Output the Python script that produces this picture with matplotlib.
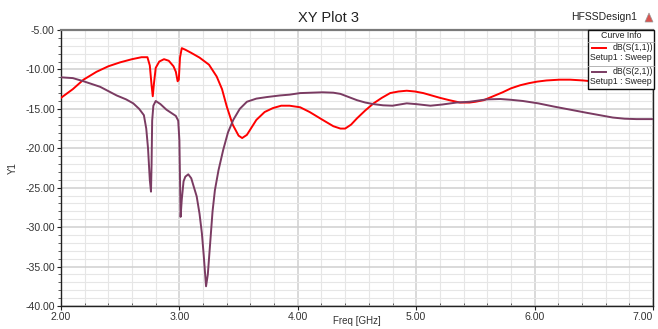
import matplotlib
matplotlib.use("Agg")
import matplotlib.pyplot as plt
from matplotlib.patches import Rectangle, Polygon
from matplotlib.ticker import MultipleLocator, FormatStrFormatter

plt.rcParams["font.family"] = ["Liberation Sans", "DejaVu Sans"]

# ---- data (freq in GHz, dB) ----
freq_s11 = [2.00, 2.10, 2.19, 2.30, 2.40, 2.50, 2.60, 2.68, 2.73, 2.75, 2.765, 2.775,
            2.785, 2.80, 2.83, 2.87, 2.91, 2.95, 2.97, 2.985, 2.995, 3.005, 3.02, 3.05,
            3.10, 3.17, 3.25, 3.315, 3.36, 3.40, 3.45, 3.50, 3.53, 3.57, 3.65, 3.72,
            3.79, 3.86, 3.93, 4.02, 4.10, 4.21, 4.30, 4.36, 4.40, 4.45, 4.50, 4.57,
            4.64, 4.71, 4.78, 4.85, 4.92, 4.99, 5.06, 5.13, 5.20, 5.28, 5.37, 5.45,
            5.50, 5.57, 5.65, 5.73, 5.80, 5.88, 5.95, 6.02, 6.10, 6.21, 6.30, 6.41,
            6.55, 6.70, 6.85, 7.00]
s11_db = [-13.6, -12.5, -11.3, -10.3, -9.6, -9.1, -8.7, -8.45, -8.45, -9.5, -12.0, -13.4,
          -11.8, -9.8, -9.0, -8.7, -8.9, -9.6, -10.3, -11.5, -11.3, -8.5, -7.3, -7.5,
          -7.9, -8.5, -9.4, -10.9, -12.5, -14.7, -17.0, -18.4, -18.7, -18.3, -16.4, -15.4,
          -14.9, -14.6, -14.6, -14.8, -15.4, -16.4, -17.2, -17.5, -17.5, -17.0, -16.2, -15.2,
          -14.3, -13.6, -13.0, -12.8, -12.7, -12.8, -13.0, -13.3, -13.6, -13.9, -14.2, -14.2,
          -14.1, -13.9, -13.4, -12.9, -12.4, -12.0, -11.75, -11.55, -11.4, -11.3, -11.3, -11.4,
          -11.6, -11.9, -12.2, -12.4]

freq_s21 = [2.00, 2.10, 2.19, 2.33, 2.47, 2.55, 2.61, 2.66, 2.70, 2.72, 2.735, 2.75,
            2.76, 2.765, 2.77, 2.78, 2.80, 2.84, 2.89, 2.93, 2.97, 2.99, 3.00, 3.01,
            3.02, 3.035, 3.05, 3.075, 3.10, 3.146, 3.17, 3.19, 3.205, 3.225, 3.24, 3.26,
            3.28, 3.30, 3.33, 3.37, 3.41, 3.455, 3.51, 3.57, 3.65, 3.74, 3.85, 3.93,
            4.02, 4.21, 4.30, 4.36, 4.43, 4.50, 4.57, 4.64, 4.72, 4.80, 4.86, 4.92,
            5.00, 5.12, 5.22, 5.34, 5.45, 5.595, 5.71, 5.80, 5.90, 6.03, 6.16, 6.30,
            6.44, 6.55, 6.66, 6.76, 6.86, 7.00]
s21_db = [-11.0, -11.1, -11.5, -12.2, -13.3, -13.8, -14.3, -15.0, -15.8, -17.5, -20.0, -24.0,
          -25.5, -22.0, -16.5, -14.6, -14.0, -14.4, -15.1, -15.5, -15.9, -16.5, -19.0, -28.7,
          -26.5, -24.2, -23.6, -23.3, -23.8, -26.1, -28.3, -30.8, -33.5, -37.5, -36.0, -32.0,
          -28.0, -25.3, -22.8, -20.2, -18.0, -16.4, -15.0, -14.1, -13.7, -13.5, -13.3, -13.2,
          -13.0, -12.9, -12.95, -13.1, -13.5, -13.9, -14.2, -14.4, -14.55, -14.6, -14.45, -14.3,
          -14.4, -14.6, -14.45, -14.2, -14.1, -13.8, -13.75, -13.85, -14.0, -14.3, -14.7, -15.1,
          -15.5, -15.8, -16.1, -16.25, -16.3, -16.3]

x_ticks = [2.0, 3.0, 4.0, 5.0, 6.0, 7.0]
x_tick_labels = ["2.00", "3.00", "4.00", "5.00", "6.00", "7.00"]

RED = "#ff0000"
PURPLE = "#7a3b62"

fig = plt.figure(figsize=(6.58, 3.29), dpi=100)
fig.patch.set_facecolor("white")
ax = fig.add_axes([61 / 658, 1 - 306 / 329, 592 / 658, 276 / 329])

ax.plot(freq_s11, s11_db, color=RED, lw=1.4, zorder=3)
ax.plot(freq_s21, s21_db, color=PURPLE, lw=1.4, zorder=3)

ax.set_xlim(2.0, 7.0)
ax.set_ylim(-40.0, -5.0)
ax.set_xticks(x_ticks, labels=x_tick_labels)
ax.xaxis.set_minor_locator(MultipleLocator(0.2))
ax.yaxis.set_major_locator(MultipleLocator(5.0))
ax.yaxis.set_minor_locator(MultipleLocator(1.0))
ax.yaxis.set_major_formatter(FormatStrFormatter("%.2f"))

ax.grid(which="major", color="#cfcfcf", lw=1.1, zorder=0)
ax.grid(which="minor", color="#e6e6e6", lw=0.8, zorder=0)
ax.set_axisbelow(True)

ax.tick_params(which="major", direction="out", length=3, width=0.8, color="#222222",
               labelsize=7.6, labelcolor="#333333", pad=1.5)
ax.tick_params(which="minor", direction="out", length=2, width=0.6, color="#444444")
ax.tick_params(axis="x", which="minor", direction="in", length=2)

# last x tick label sits at the right edge; keep it inside the canvas
ax.get_xticklabels()[-1].set_horizontalalignment("right")

for side in ("left", "bottom", "right"):
    ax.spines[side].set_color("#222222")
    ax.spines[side].set_linewidth(1.0)
ax.spines["top"].set_color("#7a7a7a")
ax.spines["top"].set_linewidth(1.6)

ax.set_ylabel("Y1", fontsize=7, color="#333333", labelpad=5)
ax.set_xlabel("Freq [GHz]", fontsize=7, color="#333333")
ax.xaxis.set_label_coords(0.5, -0.038)

# overlay in pixel coordinates for title block and legend
ov = fig.add_axes([0, 0, 1, 1], zorder=5)
ov.set_xlim(0, 658)
ov.set_ylim(329, 0)
ov.axis("off")
ov.patch.set_alpha(0)

ov.text(329, 18, "XY Plot 3", ha="center", va="center", fontsize=10.5, color="#222222")
ov.text(604, 17, "HFSSDesign1", ha="center", va="center", fontsize=7.5, color="#222222")
ov.add_patch(Polygon([[645, 22], [653, 22], [649, 13]], closed=True,
                     facecolor="#d9534f", edgecolor="#999999", lw=0.5))

ov.add_patch(Rectangle((588, 29.5), 65.5, 59, facecolor="white", edgecolor="#111111", lw=1.0))
ov.plot([588, 653.5], [41.5, 41.5], color="#aaaaaa", lw=0.6)
ov.plot([588, 653.5], [65.5, 65.5], color="#aaaaaa", lw=0.6)
ov.text(621, 35.5, "Curve Info", ha="center", va="center", fontsize=6.3, color="#222222")

ov.plot([592, 606], [48, 48], color=RED, lw=1.4)
ov.text(653, 48, "dB(S(1,1))", ha="right", va="center", fontsize=6.3, color="#222222")
ov.text(590.5, 57.5, "Setup1 : Sweep", ha="left", va="center", fontsize=6.3, color="#222222")
ov.plot([592, 606], [72, 72], color=PURPLE, lw=1.4)
ov.text(653, 72, "dB(S(2,1))", ha="right", va="center", fontsize=6.3, color="#222222")
ov.text(590.5, 81.5, "Setup1 : Sweep", ha="left", va="center", fontsize=6.3, color="#222222")

fig.savefig("out.png", dpi=100, facecolor="white")
